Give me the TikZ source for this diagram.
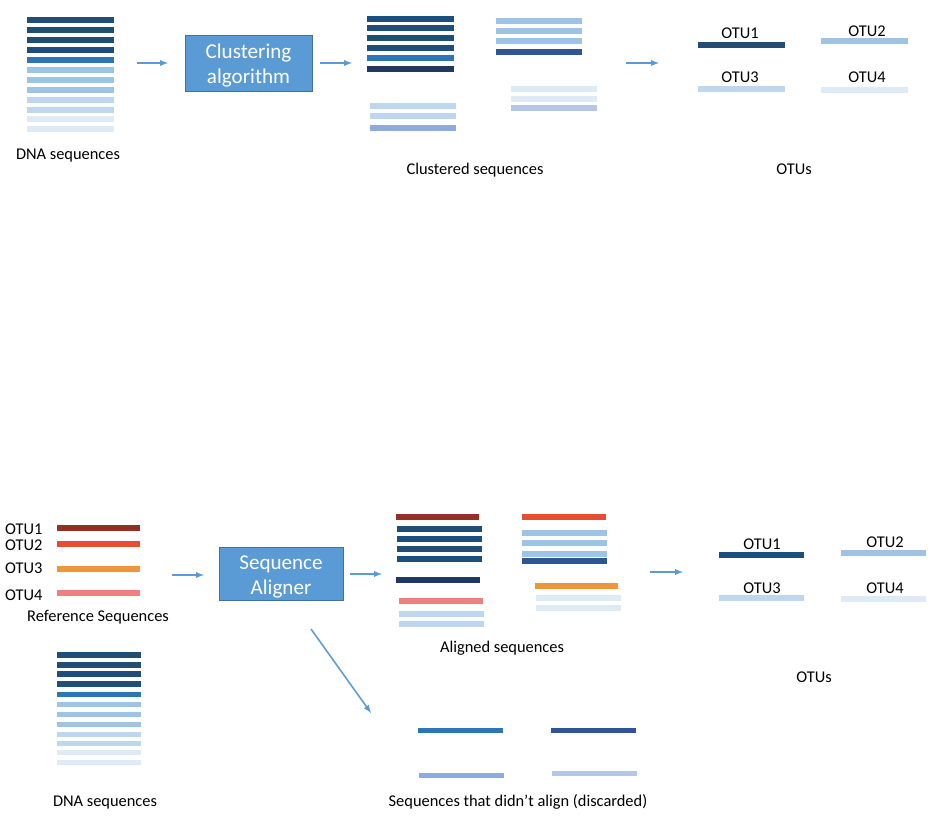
\documentclass[tikz,border=0pt]{standalone}
\usepackage{fontspec}
\setmainfont{Carlito}
\usetikzlibrary{positioning, arrows}

\definecolor{navy}{HTML}{1F4E79}
\definecolor{midblue}{HTML}{2E75B6}
\definecolor{lightblue}{HTML}{9DC3E6}
\definecolor{paleblue}{HTML}{BDD7EE}
\definecolor{faintblue}{HTML}{DEEBF7}
\definecolor{deepnavy}{HTML}{203864}
\definecolor{royal}{HTML}{2F5597}
\definecolor{lavender}{HTML}{8FAADC}
\definecolor{mist}{HTML}{B4C7E7}
\definecolor{refred}{HTML}{943126}
\definecolor{refscarlet}{HTML}{E84C32}
\definecolor{reforange}{HTML}{F0963A}
\definecolor{refsalmon}{HTML}{F08080}
\definecolor{flowblue}{HTML}{5B9BD5}
\definecolor{boxedge}{HTML}{41719C}

\begin{document}
\begin{tikzpicture}[x=0.03cm, y=-0.03cm, >=latex,
    seq/.style={line width=4.3pt},
    lbl/.style={font=\fontsize{14}{16}\selectfont, inner sep=0pt},
    algobox/.style={draw=boxedge, fill=flowblue, line width=0.8pt, text=white,
        font=\fontsize{18}{21.5}\selectfont, align=center, inner sep=0pt},
    flow/.style={->, draw=flowblue, line width=1.3pt}]

    \useasboundingbox (0,0) rectangle (937,826);

    % --- clustering ---
    \foreach \y/\c in {20/navy, 30/navy, 40/navy, 50/navy, 60/midblue,
        70/lightblue, 80/lightblue, 90/lightblue, 100/paleblue, 110/paleblue,
        119/faintblue, 129/faintblue} {
        \draw[seq, \c] (27,\y) -- (114,\y);
    };
    \node[lbl] at (68,156) (dnatop) {DNA sequences};

    \node[algobox, minimum width=3.81cm, minimum height=1.68cm] at (248.5,63) (clusterbox) {\rule{0pt}{17pt}Clustering\\algorithm};

    \coordinate (c1a) at (137,63);
    \coordinate (c1b) at (168,63);
    \coordinate (c2a) at (320,63);
    \coordinate (c2b) at (352,63);
    \coordinate (c3a) at (626,63);
    \coordinate (c3b) at (659,63);
    \draw[flow] (c1a) -- (c1b);
    \draw[flow] (c2a) -- (c2b);
    \draw[flow] (c3a) -- (c3b);

    \foreach \y/\c in {19/navy, 28/navy, 38/navy, 48/navy, 58/midblue, 69/deepnavy} {
        \draw[seq, \c] (367,\y) -- (454,\y);
    };
    \foreach \y/\c in {21/lightblue, 31/lightblue, 41/lightblue, 52/royal} {
        \draw[seq, \c] (496,\y) -- (582,\y);
    };
    \foreach \y/\c in {106/paleblue, 116/paleblue, 128/lavender} {
        \draw[seq, \c] (370,\y) -- (456,\y);
    };
    \foreach \y/\c in {89/faintblue, 99/faintblue, 108/mist} {
        \draw[seq, \c] (511,\y) -- (597,\y);
    };
    \node[lbl] at (475,170) (clusteredlabel) {Clustered sequences};

    \draw[seq, navy] (698,45) -- (785,45);
    \draw[seq, lightblue] (821,41) -- (908,41);
    \draw[seq, paleblue] (698,89) -- (785,89);
    \draw[seq, faintblue] (821,90) -- (908,90);
    \node[lbl] at (740,33) (otu1top) {OTU1};
    \node[lbl] at (867,31) (otu2top) {OTU2};
    \node[lbl] at (740,77) (otu3top) {OTU3};
    \node[lbl] at (867,77) (otu4top) {OTU4};
    \node[lbl] at (794,169) (otustop) {OTUs};

    % --- reference alignment ---
    \draw[seq, refred] (57,528) -- (140,528);
    \draw[seq, refscarlet] (57,544) -- (140,544);
    \draw[seq, reforange] (57,569) -- (140,569);
    \draw[seq, refsalmon] (57,593) -- (140,593);
    \node[lbl, anchor=west] at (5,529) (ref1) {OTU1};
    \node[lbl, anchor=west] at (5,545) (ref2) {OTU2};
    \node[lbl, anchor=west] at (5,568) (ref3) {OTU3};
    \node[lbl, anchor=west] at (5,595) (ref4) {OTU4};
    \node[lbl] at (98,617) (reflabel) {Reference Sequences};

    \foreach \y/\c in {655/navy, 665/navy, 674/navy, 684/navy, 694/midblue,
        704/lightblue, 714/lightblue, 724/lightblue, 734/paleblue, 743/paleblue,
        752/faintblue, 762/faintblue} {
        \draw[seq, \c] (57,\y) -- (141,\y);
    };
    \node[lbl] at (105,803) (dnabottom) {DNA sequences};

    \node[algobox, minimum width=3.72cm, minimum height=1.59cm] at (281,573.5) (alignerbox) {\rule{0pt}{17pt}Sequence\\Aligner};

    \coordinate (a1a) at (172,575);
    \coordinate (a1b) at (204,575);
    \coordinate (a2a) at (350,574);
    \coordinate (a2b) at (382,574);
    \coordinate (a3a) at (650,572);
    \coordinate (a3b) at (683,572);
    \coordinate (d1a) at (311,629);
    \coordinate (d1b) at (371,713);
    \draw[flow] (a1a) -- (a1b);
    \draw[flow] (a2a) -- (a2b);
    \draw[flow] (a3a) -- (a3b);
    \draw[flow] (d1a) -- (d1b);

    \draw[seq, refred] (396,517) -- (479,517);
    \foreach \y in {529, 539, 549, 559} {
        \draw[seq, navy] (397,\y) -- (482,\y);
    };
    \draw[seq, deepnavy] (396,580) -- (480,580);
    \draw[seq, refsalmon] (399,601) -- (483,601);
    \draw[seq, paleblue] (399,614) -- (484,614);
    \draw[seq, paleblue] (399,624) -- (484,624);

    \draw[seq, refscarlet] (522,517) -- (606,517);
    \foreach \y/\c in {533/lightblue, 543/lightblue, 554/lightblue, 561/royal} {
        \draw[seq, \c] (522,\y) -- (607,\y);
    };
    \draw[seq, reforange] (535,586) -- (618,586);
    \draw[seq, faintblue] (536,598) -- (621,598);
    \draw[seq, faintblue] (536,608) -- (621,608);
    \node[lbl] at (502,648) (alignedlabel) {Aligned sequences};

    \draw[seq, navy] (719,555) -- (804,555);
    \draw[seq, lightblue] (841,553) -- (926,553);
    \draw[seq, paleblue] (719,598) -- (804,598);
    \draw[seq, faintblue] (841,599) -- (926,599);
    \node[lbl] at (762,544) (otu1bottom) {OTU1};
    \node[lbl] at (885,542) (otu2bottom) {OTU2};
    \node[lbl] at (762,588) (otu3bottom) {OTU3};
    \node[lbl] at (885,588) (otu4bottom) {OTU4};
    \node[lbl] at (814,677) (otusbottom) {OTUs};

    \draw[seq, midblue] (418,730) -- (503,730);
    \draw[seq, royal] (551,730) -- (636,730);
    \draw[seq, lavender] (419,775) -- (504,775);
    \draw[seq, mist] (552,773) -- (637,773);
    \node[lbl] at (518,802) (discardlabel) {Sequences that didn’t align (discarded)};

\end{tikzpicture}
\end{document}
